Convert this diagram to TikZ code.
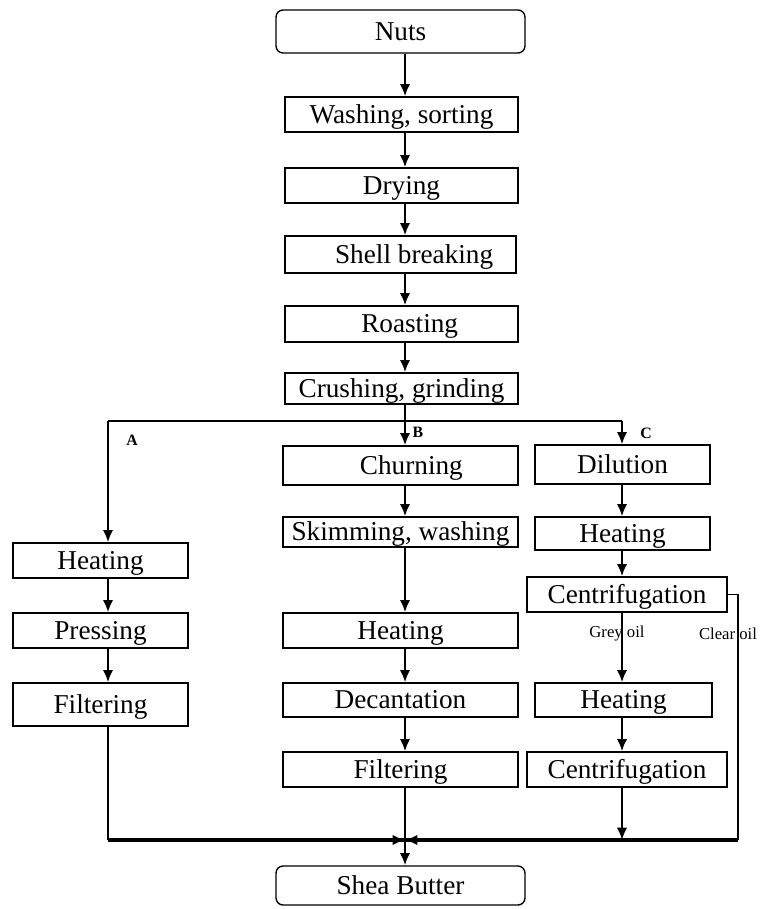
\documentclass[tikz,border=0pt]{standalone}
\usepackage{fontspec}
\setmainfont{Liberation Serif}
\usetikzlibrary{arrows.meta}

\begin{document}
\begin{tikzpicture}[x=0.02cm,y=-0.02cm]
			\tikzset{stage/.style={draw,line width=0.8pt,inner sep=0pt,minimum width=4.66cm,minimum height=0.7cm,text height=10pt,text depth=0pt,font=\fontsize{15.5}{17}\selectfont}}
			\tikzset{endbox/.style={stage,rounded corners=4pt,minimum width=4.98cm}}
			\tikzset{sidebox/.style={stage,minimum width=3.5cm}}
			\tikzset{flow/.style={line width=1.3pt,-{Latex[length=7pt,width=6pt]}}}
			\tikzset{bus/.style={line width=1.8pt}}
			\tikzset{thin/.style={line width=0.7pt}}
			\tikzset{tag/.style={font=\fontsize{9}{10}\selectfont\bfseries,inner sep=0pt}}
			\tikzset{oil/.style={font=\fontsize{9.5}{10}\selectfont,inner sep=0pt}}
			\useasboundingbox (0,0) rectangle (760,909);
			% main column
			\node[endbox,minimum height=0.86cm] (nuts) at (400.5,31.5) {Nuts};
			\node[stage] (wash) at (401.5,114.5) {Washing, sorting};
			\node[stage] (dry) at (401.5,185.5) {Drying};
			\node[stage,minimum width=4.62cm,minimum height=0.74cm] (shell) at (400.5,254.5) {\hspace{1em}Shell breaking};
			\node[stage,minimum height=0.72cm] (roast) at (401.5,324) {\hspace{0.6em}Roasting};
			\node[stage,minimum height=0.62cm] (crush) at (401.5,388.5) {Crushing, grinding};
			% route A
			\node[sidebox] (heatA) at (100.5,560.5) {Heating};
			\node[sidebox] (press) at (100.5,630.5) {Pressing};
			\node[sidebox,minimum height=0.86cm] (filtA) at (100.5,704.5) {Filtering};
			% route B
			\node[stage,minimum width=4.7cm,minimum height=0.78cm] (churn) at (400.5,465.5) {\hspace{0.8em}Churning};
			\node[stage,minimum width=4.7cm,minimum height=0.6cm] (skim) at (400.5,532) {Skimming, washing};
			\node[stage,minimum width=4.7cm] (heatB) at (400.5,630.5) {Heating};
			\node[stage,minimum width=4.7cm,minimum height=0.68cm] (decant) at (400.5,700) {Decantation};
			\node[stage,minimum width=4.7cm] (filtB) at (400.5,769.5) {Filtering};
			% route C
			\node[sidebox,minimum height=0.78cm] (dil) at (622.5,464.5) {Dilution};
			\node[sidebox,minimum height=0.66cm] (heatC) at (622.5,533.5) {Heating};
			\node[stage,minimum width=4cm] (centA) at (627,594.5) {Centrifugation};
			\node[sidebox,minimum width=3.54cm,minimum height=0.68cm] (heatD) at (623.5,700) {Heating};
			\node[stage,minimum width=4cm] (centB) at (627,769.5) {Centrifugation};
			\node[endbox,minimum height=0.78cm] (shea) at (400.5,885.5) {Shea Butter};
			% column lines
			\coordinate (xA) at (108,0);
			\coordinate (xB) at (405,0);
			\coordinate (xC) at (622,0);
			\coordinate (xR) at (738,0);
			\coordinate (split) at (405,421);
			\coordinate (merge) at (405,840);
			% labels
			\node[tag] (labA) at (132,440) {A};
			\node[tag] (labB) at (418,432) {B};
			\node[tag] (labC) at (646,433) {C};
			\node[oil] (grey) at (617,634) {Grey oil};
			\node[oil] (clear) at (728,634) {Clear oil};
			% connectors
			\draw[flow] (nuts.south -| xB) -- (wash.north -| xB);
			\draw[flow] (wash.south -| xB) -- (dry.north -| xB);
			\draw[flow] (dry.south -| xB) -- (shell.north -| xB);
			\draw[flow] (shell.south -| xB) -- (roast.north -| xB);
			\draw[flow] (roast.south -| xB) -- (crush.north -| xB);
			\draw[flow] (crush.south -| xB) -- (churn.north -| xB);
			\draw[thin,line width=1pt] (split -| xA) -- (split -| xC);
			\draw[flow] (split -| xA) -- (heatA.north -| xA);
			\draw[flow] (split -| xC) -- (dil.north -| xC);
			\draw[flow] (heatA.south -| xA) -- (press.north -| xA);
			\draw[flow] (press.south -| xA) -- (filtA.north -| xA);
			\draw[flow] (churn.south -| xB) -- (skim.north -| xB);
			\draw[flow] (skim.south -| xB) -- (heatB.north -| xB);
			\draw[flow] (heatB.south -| xB) -- (decant.north -| xB);
			\draw[flow] (decant.south -| xB) -- (filtB.north -| xB);
			\draw[flow] (dil.south -| xC) -- (heatC.north -| xC);
			\draw[flow] (heatC.south -| xC) -- (centA.north -| xC);
			\draw[flow] (centA.south -| xC) -- (heatD.north -| xC);
			\draw[flow] (heatD.south -| xC) -- (centB.north -| xC);
			\draw[flow] (centB.south -| xC) -- (merge -| xC);
			\draw[flow] (filtB.south -| xB) -- (shea.north -| xB);
			\draw[thin] (filtA.south -| xA) -- (merge -| xA);
			\draw[bus] (merge -| xA) -- (merge -| xR);
			\draw[thin] (centA.east) -- (centA.east -| xR) -- (merge -| xR);
			\draw[flow,line width=1.6pt] ([xshift=-0.5cm]merge) -- (merge);
			\draw[flow,line width=1.6pt] ([xshift=0.5cm]merge) -- (merge);
		\end{tikzpicture}
\end{document}
